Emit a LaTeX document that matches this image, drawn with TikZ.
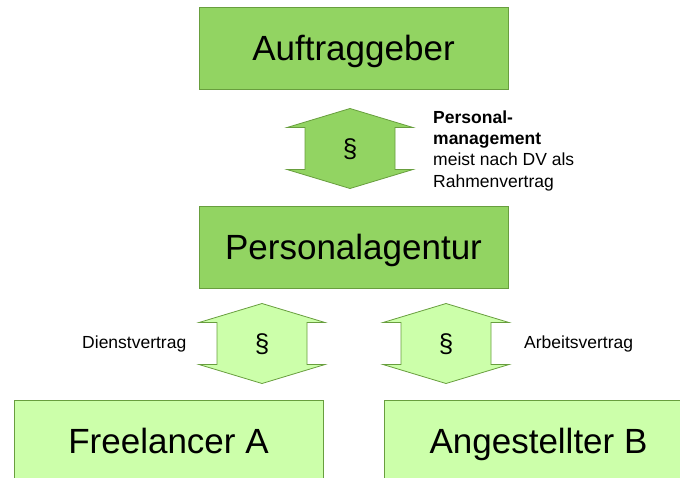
\documentclass[tikz,border=0pt]{standalone}
\usepackage{fontspec}
\setmainfont{Liberation Sans}
\definecolor{darkfill}{RGB}{146,212,98}
\definecolor{lightfill}{RGB}{204,255,170}
\definecolor{edgegreen}{RGB}{104,158,62}
\tikzset{
  box/.style={draw=edgegreen, line width=0.8pt, rectangle, inner sep=0pt,
    minimum width=309pt, minimum height=82pt, font=\fontsize{35}{40}\selectfont,
    text height=25pt, text depth=0pt},
  smalltext/.style={inner sep=0pt, font=\fontsize{17.5}{21.3}\selectfont},
  para/.style={inner sep=0pt, font=\fontsize{26}{30}\selectfont},
  pics/dblarr/.style={code={
    \path[draw=edgegreen, line width=0.8pt, fill=#1]
      (0,-40) -- (63,-21) -- (45,-21) -- (45,21) -- (63,21) -- (0,40)
      -- (-63,21) -- (-45,21) -- (-45,-21) -- (-63,-21) -- cycle;
  }}
}
\begin{document}
\begin{tikzpicture}[x=1pt,y=-1pt]
\useasboundingbox (0,0) rectangle (680,477);
\begin{scope}
\clip (0,0) rectangle (680,477);
\node[box, fill=darkfill] (auftrag) at (353.5,48) {Auftraggeber};
\node[box, fill=darkfill] (agentur) at (353.5,247) {Personalagentur};
\node[box, fill=lightfill] (free) at (168.5,441) {Freelancer A};
\node[box, fill=lightfill] (angest) at (538.5,441) {Angestellter B};

\pic at (350,148.5) {dblarr=darkfill};
\node[para] (p1) at (350,149.5) {§};
\pic at (262,343.5) {dblarr=lightfill};
\node[para] (p2) at (262,344.5) {§};
\pic at (446,343.5) {dblarr=lightfill};
\node[para] (p3) at (446,344.5) {§};

\node[smalltext, anchor=north west, align=left] (pm) at (433,110.5)
  {\bfseries Personal-\\\bfseries management\\meist nach DV als\\Rahmenvertrag};
\node[smalltext, anchor=base east] (dv) at (186.5,348) {Dienstvertrag};
\node[smalltext, anchor=base west] (av) at (524,348) {Arbeitsvertrag};
\end{scope}
\end{tikzpicture}
\end{document}
